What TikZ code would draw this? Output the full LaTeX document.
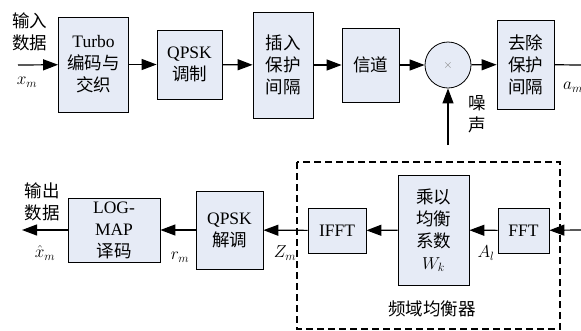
\documentclass[tikz,border=0pt]{standalone}
\usepackage{fontspec}
\setmainfont{Liberation Serif}
\newfontfamily\zhfont{Noto Sans CJK SC}
\usetikzlibrary{arrows.meta,positioning}
\definecolor{blockFill}{RGB}{230,235,246}

\begin{document}
\begin{tikzpicture}[
        x=1pt, y=-1pt,
        font=\fontsize{17.5}{22}\selectfont,
        blockNode/.style={rectangle, draw, fill=blockFill, line width=0.8pt, align=center, inner sep=0pt},
        multNode/.style={circle, draw, fill=blockFill, line width=0.8pt, minimum size=46pt, inner sep=0pt},
        labelNode/.style={align=center, inner sep=0pt},
        flow/.style={line width=1.2pt, -{Triangle[length=15pt,width=11pt]}}
    ]
        \useasboundingbox (0,0) rectangle (581,330);

        % Transmitter and channel
        \node[blockNode, minimum width=70pt, minimum height=95pt] (turbo) at (93.5,64.5) {Turbo\\{\zhfont 编码与}\\{\zhfont 交织}};
        \node[blockNode, minimum width=65pt, minimum height=69pt] (qpskMod) at (189.5,64.5) {QPSK\\{\zhfont 调制}};
        \node[blockNode, minimum width=60pt, minimum height=106pt] (insertGi) at (283,65) {\zhfont 插入\\\zhfont 保护\\\zhfont 间隔};
        \node[blockNode, minimum width=57pt, minimum height=74pt] (channel) at (370.5,65) {\zhfont 信道};
        \node[multNode] (mult) at (448,65) {\color{gray}\fontsize{13}{13}\selectfont$\times$};
        \node[blockNode, minimum width=57pt, minimum height=89pt] (removeGi) at (525.5,64.5) {\zhfont 去除\\\zhfont 保护\\\zhfont 间隔};

        % Receiver
        \draw[line width=1.5pt, dash pattern=on 7pt off 4pt] (297,162) rectangle (560,329);
        \node[blockNode, minimum width=51pt, minimum height=45pt] (fft) at (523.5,230.5) {FFT};
        \node[blockNode, minimum width=71pt, minimum height=110pt] (equal) at (433.5,230) {\zhfont 乘以\\\zhfont 均衡\\\zhfont 系数\\$W_k$};
        \node[blockNode, minimum width=58pt, minimum height=45pt] (ifft) at (337,230.5) {IFFT};
        \node[blockNode, minimum width=67pt, minimum height=78pt] (qpskDemod) at (229.5,230) {QPSK\\{\zhfont 解调}};
        \node[blockNode, minimum width=92pt, minimum height=64pt] (logMap) at (114,230) {LOG-\\MAP\\{\zhfont 译码}};

        % Free ends
        \coordinate (inStart) at (18,65);
        \coordinate (topEnd) at (581,65);
        \coordinate (noiseStart) at (448,145);
        \coordinate (bottomStart) at (581,230);
        \coordinate (outEnd) at (22,230);

        % Labels
        \node[labelNode] (inLabel) at (30,32) {\zhfont 输入\\\zhfont 数据};
        \node[labelNode] (xLabel) at (27,82) {$x_m$};
        \node[labelNode, anchor=west] (aLabel) at (563,87) {$a_m$};
        \node[labelNode] (noiseLabel) at (477,114) {\zhfont 噪\\\zhfont 声};
        \node[labelNode] (outLabel) at (42,202) {\zhfont 输出\\\zhfont 数据};
        \node[labelNode] (xHatLabel) at (45,253) {$\hat{x}_m$};
        \node[labelNode] (rLabel) at (180,257) {$r_m$};
        \node[labelNode] (zLabel) at (285,253) {$Z_m$};
        \node[labelNode] (aLLabel) at (486,253) {$A_l$};
        \node[labelNode] (eqLabel) at (432,309) {\zhfont 频域均衡器};

        % Edges
        \draw[flow] (inStart) -- (turbo);
        \draw[flow] (turbo) -- (qpskMod);
        \draw[flow] (qpskMod) -- (insertGi);
        \draw[flow] (insertGi) -- (channel);
        \draw[flow] (channel) -- (mult);
        \draw[flow] (mult) -- (removeGi);
        \draw[line width=1.2pt] (removeGi) -- (topEnd);
        \draw[flow] (noiseStart) -- (mult);
        \draw[flow] (bottomStart) -- (fft);
        \draw[flow] (fft) -- (equal);
        \draw[flow] (equal) -- (ifft);
        \draw[flow] (ifft) -- (qpskDemod);
        \draw[flow] (qpskDemod) -- (logMap);
        \draw[flow] (logMap) -- (outEnd);
    \end{tikzpicture}
\end{document}
